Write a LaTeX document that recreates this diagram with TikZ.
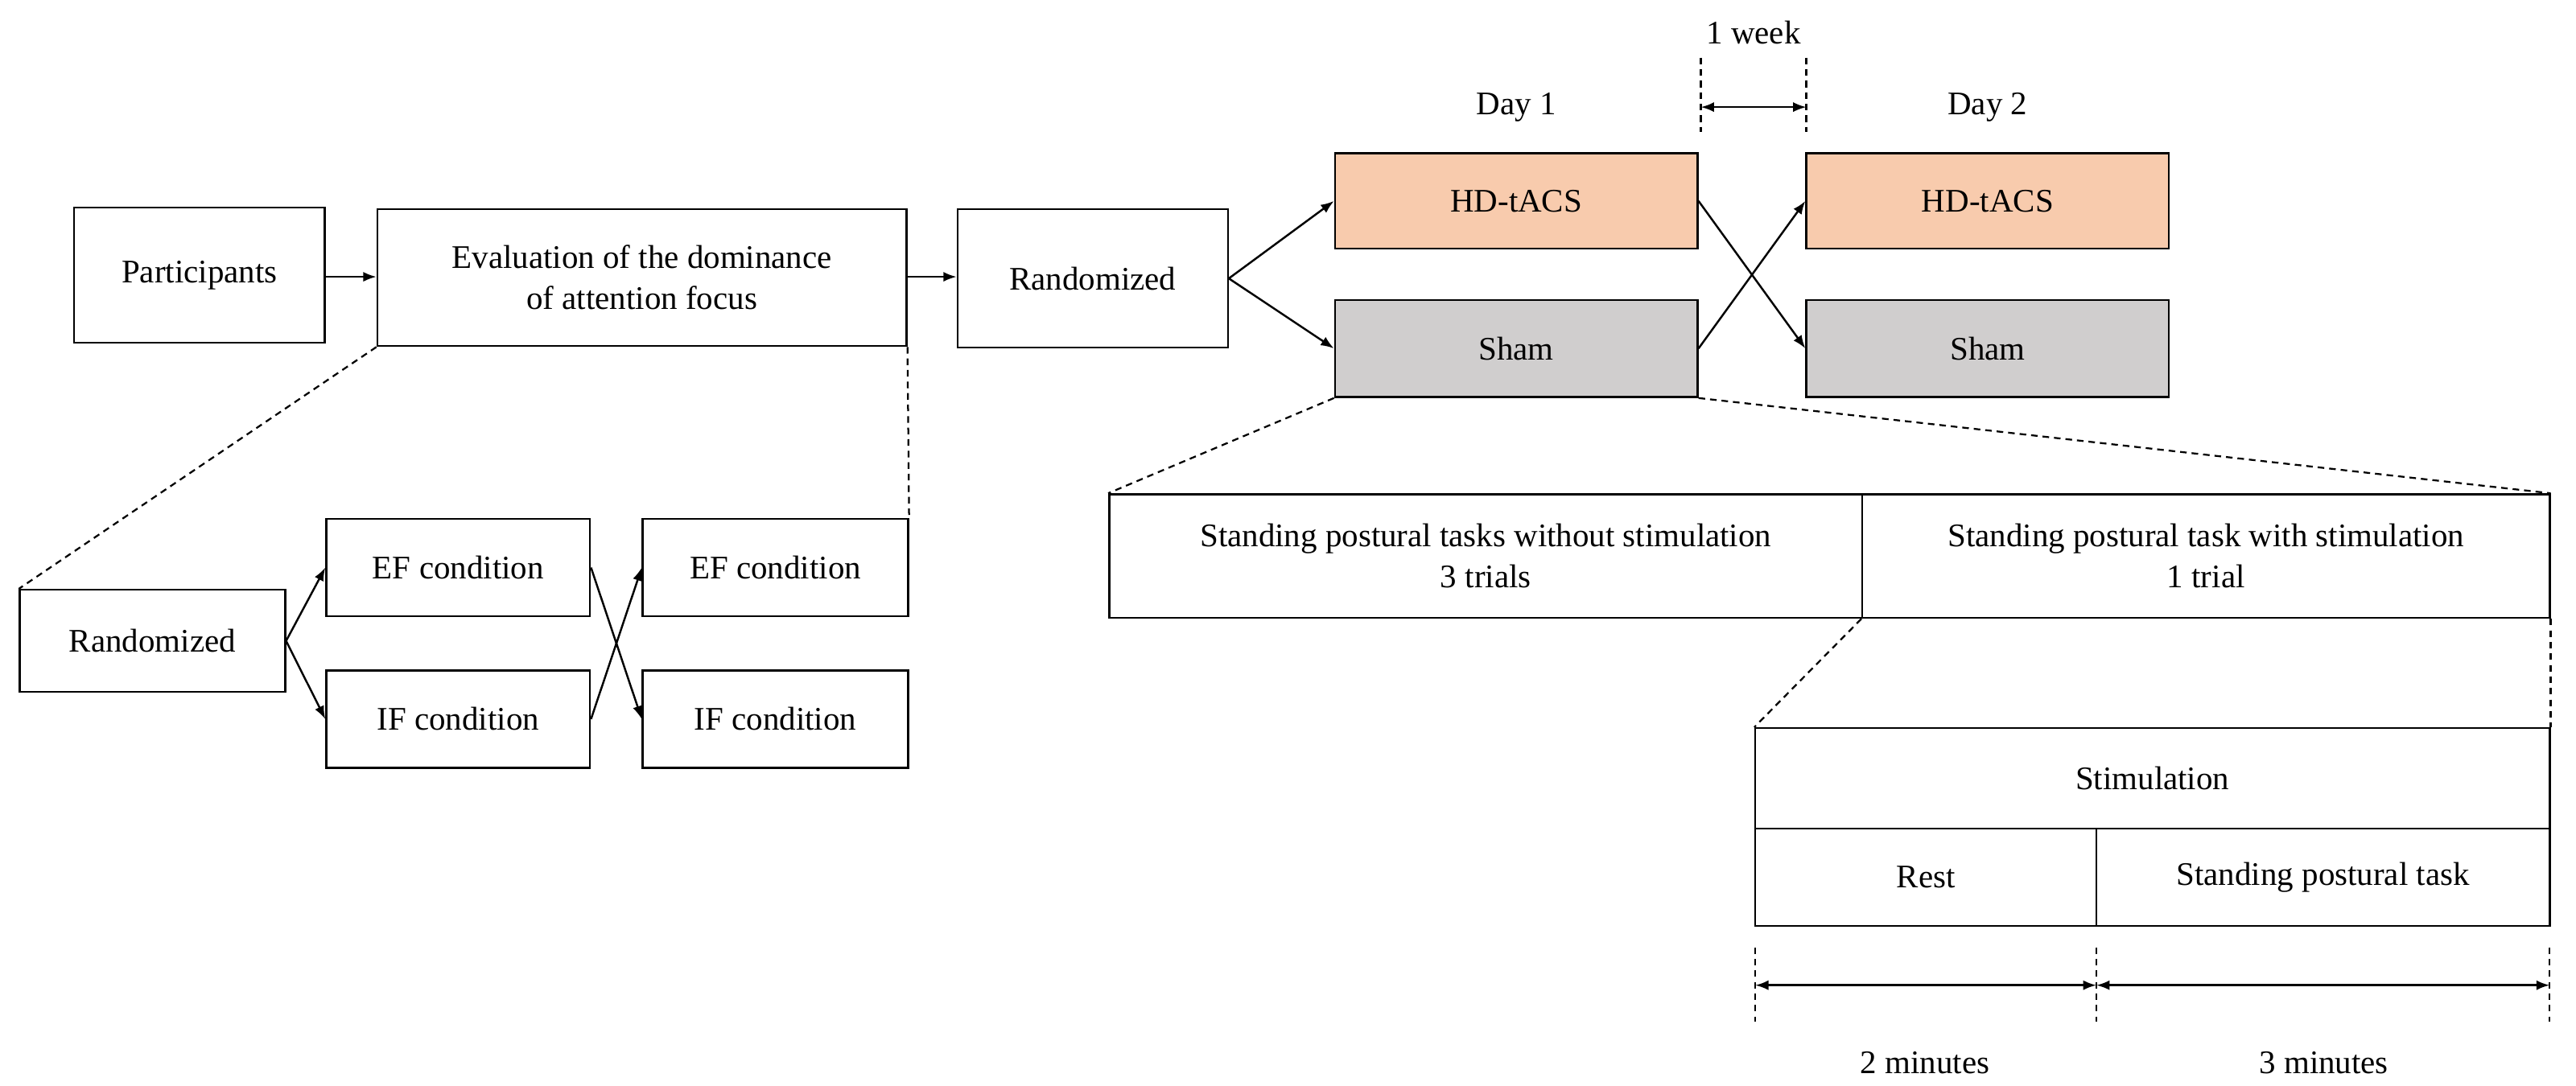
\documentclass[tikz,border=0pt]{standalone}
\usepackage{fontspec}
\setmainfont{Liberation Serif}
\usetikzlibrary{arrows.meta}
\definecolor{peach}{HTML}{F8CBAD}
\definecolor{shamgray}{HTML}{D0CECE}
\begin{document}
\begin{tikzpicture}[x=1pt,y=-1pt,
  bx/.style={draw,line width=1.2pt,inner sep=0pt,font=\fontsize{20}{25}\selectfont,align=center},
  ar/.style={-{Latex[length=8pt,width=6pt]},line width=1.2pt},
  dar/.style={{Latex[length=8pt,width=6pt]}-{Latex[length=8pt,width=6pt]},line width=1.2pt},
  ds/.style={dashed,line width=1.1pt,dash pattern=on 4pt off 3pt},
  lb/.style={font=\fontsize{20}{25}\selectfont}]
\useasboundingbox (0,0) rectangle (1563,659);
\newcommand\bx[6]{\node[bx,#6,minimum width={#4-#2},minimum height={#5-#3}] (#1) at ({(#2+#4)/2},{(#3+#5)/2}) {};}
\node[bx,minimum width=152,minimum height=82] (p) at (121,167) {Participants};
\node[bx,minimum width=321,minimum height=83] (e) at (389.5,168.5) {Evaluation of the dominance\\of attention focus};
\node[bx,minimum width=164,minimum height=84] (r) at (663,169) {Randomized};
\node[bx,fill=peach,minimum width=220,minimum height=58] (h1) at (920,122) {HD-tACS};
\node[bx,fill=shamgray,minimum width=220,minimum height=59] (s1) at (920,211.5) {Sham};
\node[bx,fill=peach,minimum width=220,minimum height=58] (h2) at (1206,122) {HD-tACS};
\node[bx,fill=shamgray,minimum width=220,minimum height=59] (s2) at (1206,211.5) {Sham};
\node[lb] (d1) at (920,65) {Day 1};
\node[lb] (d2) at (1206,65) {Day 2};
\node[lb] (wk) at (1064,20) {1 week};
\coordinate (w1a) at (1032,35); \coordinate (w1b) at (1032,80);
\coordinate (w2a) at (1096,35); \coordinate (w2b) at (1096,80);
\draw[ds] (w1a) -- (w1b); \draw[ds] (w2a) -- (w2b);
\draw[dar] (1032,65) -- (1096,65);
\draw[ar] (p.east |- 0,168) -- (e.west |- 0,168);
\draw[ar] (e.east |- 0,168) -- (r.west |- 0,168);
\draw[ar] (r.east) -- (h1.west);
\draw[ar] (r.east) -- (s1.west);
\draw[ar] (h1.east) -- (s2.west);
\draw[ar] (s1.east) -- (h2.west);
% left block
\node[bx,minimum width=161,minimum height=62] (r2) at (92.5,389) {Randomized};
\node[bx,minimum width=160,minimum height=59] (ef1) at (278,344.5) {EF condition};
\node[bx,minimum width=160,minimum height=59] (if1) at (278,436.5) {IF condition};
\node[bx,minimum width=161,minimum height=59] (ef2) at (470.5,344.5) {EF condition};
\node[bx,minimum width=161,minimum height=59] (if2) at (470.5,436.5) {IF condition};
\draw[ar] (r2.east) -- (ef1.west);
\draw[ar] (r2.east) -- (if1.west);
\draw[ar] (ef1.east) -- (if2.west);
\draw[ar] (if1.east) -- (ef2.west);
\draw[ds] (e.south west) -- (r2.north west);
\draw[ds] (e.south east) -- (ef2.north east);
% right blocks
\node[bx,minimum width=457,minimum height=75] (t1) at (901.5,337.5) {Standing postural tasks without stimulation\\3 trials};
\node[bx,minimum width=417,minimum height=75] (t2) at (1338.5,337.5) {Standing postural task with stimulation\\1 trial};
\draw[ds] (s1.south west) -- (t1.north west);
\draw[ds] (s1.south east) -- (t2.north east);
\node[bx,minimum width=482,minimum height=61] (st) at (1306,472.5) {Stimulation};
\node[bx,minimum width=207,minimum height=59] (rest) at (1168.5,532.5) {Rest};
\node[bx,minimum width=275,minimum height=59] (spt) at (1409.5,532.5) {Standing postural task};
\draw[ds] (t2.south west) -- (st.north west);
\draw[ds] (t2.south east) -- (st.north east);
\coordinate (ma) at (1065,575); \coordinate (mb) at (1065,620);
\coordinate (mc) at (1272,575); \coordinate (md) at (1272,620);
\coordinate (me) at (1547,575); \coordinate (mf) at (1547,620);
\draw[ds] (ma) -- (mb); \draw[ds] (mc) -- (md); \draw[ds] (me) -- (mf);
\draw[dar] (1065,598) -- (1272,598);
\draw[dar] (1272,598) -- (1547,598);
\node[lb] (m2) at (1168,645) {2 minutes};
\node[lb] (m3) at (1410,645) {3 minutes};
\end{tikzpicture}
\end{document}
